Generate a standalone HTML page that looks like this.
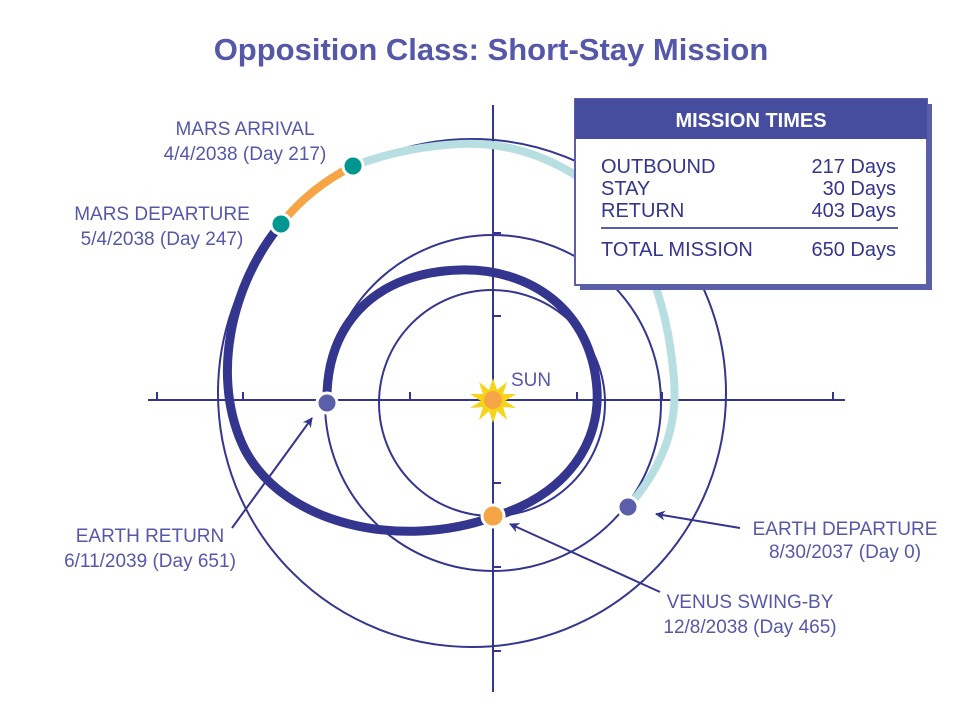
<!DOCTYPE html>
<html><head><meta charset="utf-8"><style>
html,body{margin:0;padding:0;background:#fff;}
svg{display:block;font-family:"Liberation Sans",sans-serif;}
</style></head><body>
<svg width="953" height="715" viewBox="0 0 953 715" xmlns="http://www.w3.org/2000/svg">
<defs><marker id="ah" markerWidth="10" markerHeight="10" refX="9" refY="5" orient="auto" markerUnits="userSpaceOnUse"><path d="M0,0 L10,5 L0,10 L3,5 Z" fill="#33358f"/></marker></defs>
<text x="491" y="60" text-anchor="middle" font-size="31" font-weight="bold" fill="#5558a8">Opposition Class: Short-Stay Mission</text>
<g stroke="#33358f" stroke-width="2" fill="none">
<line x1="148" y1="400" x2="845" y2="400"/>
<line x1="493" y1="105" x2="493" y2="692"/>
<path d="M157,400v-8M243,400v-8M410,400v-8M577,400v-8M662,400v-8M833,400v-8"/>
<path d="M493,148h8M493,233h8M493,316h8M493,483h8M493,567h8M493,651h8"/>
<circle cx="492" cy="403" r="113"/>
<circle cx="493" cy="403" r="168"/>
<circle cx="472" cy="393" r="254"/>
</g>
<path d="M628,507 C660,470 678,430 674,380 C668,300 640,220 580,178 C540,152 500,142 460,144 C420,146 385,154 353,166" stroke="#b7dfe2" stroke-width="8" fill="none"/>
<path d="M353,166 C325,180 300,200 281,224" stroke="#f5a546" stroke-width="8" fill="none"/>
<path d="M281,224 C230,285 210,380 245,450 C285,525 400,550 493,517 C570,494 600,440 597,390 C592,310 530,268 460,270 C380,272 325,320 327,403" stroke="#33358f" stroke-width="9" fill="none"/>
<g stroke="#fff" stroke-width="3">
<circle cx="353" cy="166" r="10" fill="#009690"/>
<circle cx="281" cy="224" r="10" fill="#009690"/>
<circle cx="327" cy="403" r="10" fill="#5b5faa"/>
<circle cx="493" cy="516" r="11" fill="#f5a546"/>
<circle cx="628" cy="507" r="10" fill="#5b5faa"/>
</g>
<polygon points="493,378 497,390 507,382 503,394 516,394 505,401 516,408 503,407 507,420 497,411 493,423 489,411 479,420 483,407 470,408 481,401 470,394 483,394 479,382 489,390" fill="#f7d417"/>
<circle cx="493" cy="400" r="9" fill="#f5a546"/>
<g stroke="#33358f" stroke-width="2" marker-end="url(#ah)">
<line x1="232" y1="528" x2="312" y2="418"/>
<line x1="660" y1="592" x2="510" y2="524"/>
<line x1="740" y1="528" x2="656" y2="514"/>
</g>
<g font-size="19" fill="#5558a8" text-anchor="middle">
<text x="511" y="386" text-anchor="start">SUN</text>
<text x="245" y="135">MARS ARRIVAL</text>
<text x="245" y="160">4/4/2038 (Day 217)</text>
<text x="162" y="220">MARS DEPARTURE</text>
<text x="162" y="245">5/4/2038 (Day 247)</text>
<text x="150" y="542">EARTH RETURN</text>
<text x="150" y="567">6/11/2039 (Day 651)</text>
<text x="845" y="535">EARTH DEPARTURE</text>
<text x="845" y="558">8/30/2037 (Day 0)</text>
<text x="750" y="608">VENUS SWING-BY</text>
<text x="750" y="633">12/8/2038 (Day 465)</text>
</g>
<rect x="580" y="104" width="352" height="186" fill="#5b5faa"/>
<rect x="575" y="99" width="352" height="186" fill="#fff" stroke="#5b5faa" stroke-width="2"/>
<rect x="575" y="99" width="352" height="40" fill="#474d9e"/>
<text x="751" y="127" text-anchor="middle" font-size="20" font-weight="bold" fill="#fff">MISSION TIMES</text>
<g font-size="20" fill="#33358f">
<text x="601" y="173">OUTBOUND</text>
<text x="601" y="195">STAY</text>
<text x="601" y="217">RETURN</text>
<text x="601" y="256">TOTAL MISSION</text>
<g text-anchor="end">
<text x="896" y="173">217 Days</text>
<text x="896" y="195">30 Days</text>
<text x="896" y="217">403 Days</text>
<text x="896" y="256">650 Days</text>
</g>
</g>
<line x1="601" y1="228" x2="898" y2="228" stroke="#5b5faa" stroke-width="2"/>
</svg>
</body></html>
